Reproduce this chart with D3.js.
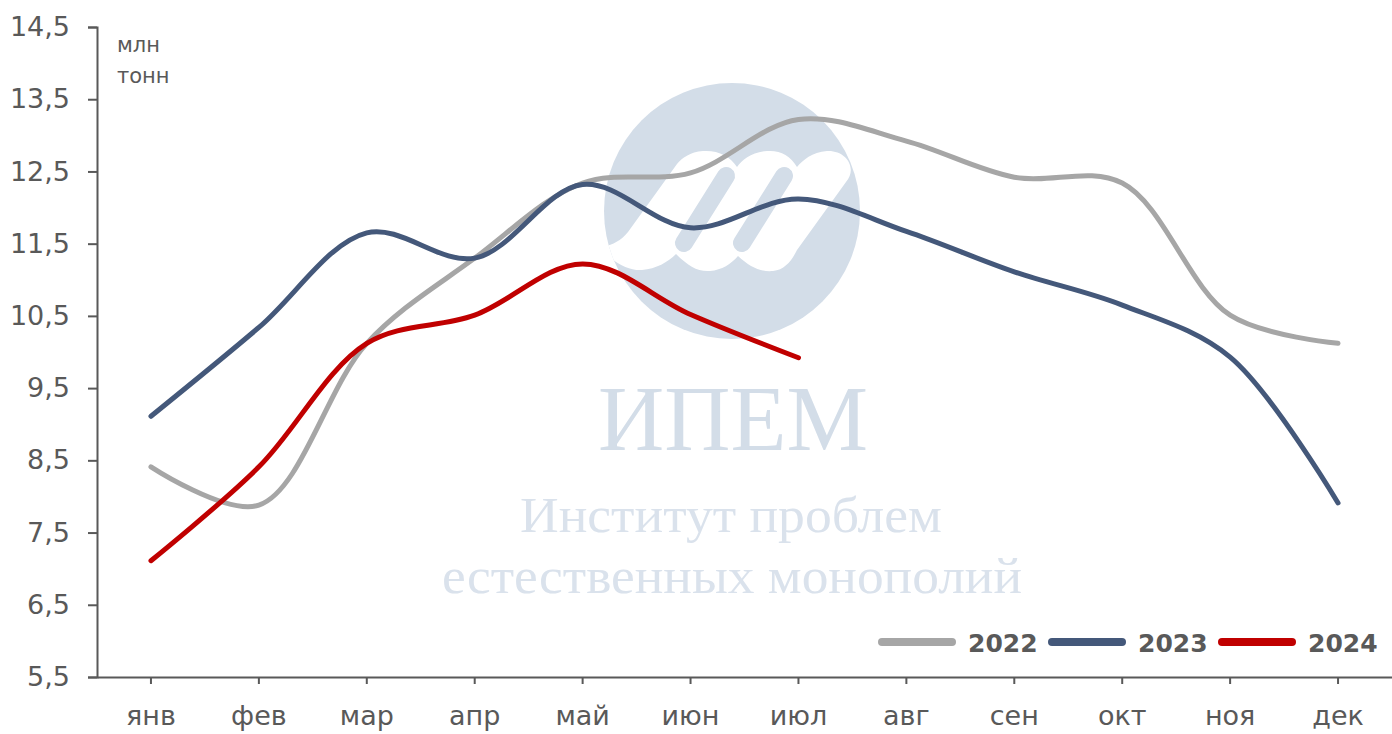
<!DOCTYPE html>
<html>
<head>
<meta charset="utf-8">
<script src="https://cdn.jsdelivr.net/npm/d3@7"></script>
<style>
  body { margin: 0; background: #fff; }
  svg { display: block; }
</style>
</head>
<body>
<script>
const months = ["янв", "фев", "мар", "апр", "май", "июн", "июл", "авг", "сен", "окт", "ноя", "дек"];
const yTicks = [5.5, 6.5, 7.5, 8.5, 9.5, 10.5, 11.5, 12.5, 13.5, 14.5];

const values2022 = [8.41, 7.88, 10.12, 11.3, 12.34, 12.48, 13.22, 12.92, 12.42, 12.34, 10.51, 10.12];
const values2023 = [9.11, 10.34, 11.65, 11.3, 12.32, 11.72, 12.12, 11.67, 11.11, 10.65, 9.93, 7.91];
const values2024 = [7.11, 8.41, 10.12, 10.51, 11.22, 10.52, 9.92];

const seriesNames = ["2022", "2023", "2024"];
const seriesColors = ["#a6a6a6", "#44587a", "#c00000"];
const seriesValues = [values2022, values2023, values2024];

const width = 1392;
const height = 734;
const textColor = "#595959";
const wmColor = "#d3dde8";

const svg = d3.create("svg")
    .attr("width", width)
    .attr("height", height);

// scales
const x = d3.scaleBand()
    .domain(months)
    .range([97, 1392]);
const cx = m => x(m) + x.bandwidth() / 2;

const y = d3.scaleLinear()
    .domain([5.5, 14.5])
    .range([677, 27]);

const fmt = v => d3.format(".1f")(v).replace(".", ",");

// watermark (logo + text)
const wm = svg.append("g").attr("class", "watermark");
const logo = { x: 732, y: 211, r: 128 };

svg.append("defs").append("clipPath")
    .attr("id", "logo-clip")
    .append("circle")
    .attr("cx", logo.x).attr("cy", logo.y).attr("r", logo.r);

wm.append("circle")
    .attr("cx", logo.x).attr("cy", logo.y).attr("r", logo.r)
    .attr("fill", wmColor);

const lg = wm.append("g").attr("clip-path", "url(#logo-clip)");

// white wave shape of the logo
lg.append("path")
    .attr("fill", "#fff")
    .attr("d", "M600,247 C612,262 628,271 642,270 " +
        "C656,269 668,262 676,254 C688,266 698,272 710,271 " +
        "C722,270 731,264 738,256 C750,267 760,272 773,271 " +
        "C785,270 792,260 797,250 L846,182 " +
        "C858,168 846,150 827,151 C812,152 803,160 797,167 " +
        "C790,155 780,150 767,151 C752,152 742,160 737,167 " +
        "C730,156 718,150 703,151 C690,152 682,158 677,164 " +
        "L628,232 C620,242 610,246 600,247 Z");

// slanted counters
lg.selectAll("line.slit")
    .data([[684, 243, 726, 176], [742, 243, 784, 176]])
    .join("line")
    .attr("class", "slit")
    .attr("x1", d => d[0]).attr("y1", d => d[1])
    .attr("x2", d => d[2]).attr("y2", d => d[3])
    .attr("stroke", wmColor)
    .attr("stroke-width", 18)
    .attr("stroke-linecap", "round");

wm.append("text")
    .attr("x", 733).attr("y", 450)
    .attr("text-anchor", "middle")
    .attr("font-family", "'Liberation Serif', 'DejaVu Serif', serif")
    .attr("font-size", 94)
    .attr("textLength", 270)
    .attr("lengthAdjust", "spacingAndGlyphs")
    .attr("fill", wmColor)
    .text("ИПЕМ");

wm.append("text")
    .attr("x", 731).attr("y", 532)
    .attr("text-anchor", "middle")
    .attr("font-family", "'Liberation Serif', 'DejaVu Serif', serif")
    .attr("font-size", 50)
    .attr("textLength", 422)
    .attr("lengthAdjust", "spacingAndGlyphs")
    .attr("fill", "#dae2ec")
    .text("Институт проблем");

wm.append("text")
    .attr("x", 732).attr("y", 593)
    .attr("text-anchor", "middle")
    .attr("font-family", "'Liberation Serif', 'DejaVu Serif', serif")
    .attr("font-size", 50)
    .attr("textLength", 580)
    .attr("lengthAdjust", "spacingAndGlyphs")
    .attr("fill", "#dae2ec")
    .text("естественных монополий");

// y axis
const yAxis = svg.append("g")
    .attr("transform", "translate(97,0)")
    .call(d3.axisLeft(y).tickValues(yTicks).tickFormat(fmt).tickSize(9).tickPadding(18));

yAxis.select(".domain").attr("stroke", textColor).attr("stroke-width", 2);
yAxis.selectAll(".tick line").attr("stroke", textColor).attr("stroke-width", 2);
yAxis.selectAll(".tick text")
    .attr("fill", textColor)
    .attr("font-family", "'DejaVu Sans', sans-serif")
    .attr("font-size", 27);

// x axis
const xAxis = svg.append("g")
    .attr("transform", "translate(0,677)")
    .call(d3.axisBottom(x).tickSize(7).tickPadding(22).tickSizeOuter(0));

xAxis.select(".domain").attr("stroke", textColor).attr("stroke-width", 2);
xAxis.selectAll(".tick line").attr("stroke", textColor).attr("stroke-width", 2);
xAxis.selectAll(".tick text")
    .attr("fill", textColor)
    .attr("font-family", "'DejaVu Sans', sans-serif")
    .attr("font-size", 27);

// unit label
const unit = svg.append("text")
    .attr("fill", textColor)
    .attr("font-family", "'DejaVu Sans', sans-serif")
    .attr("font-size", 21);
unit.append("tspan").attr("x", 117).attr("y", 52).text("млн");
unit.append("tspan").attr("x", 117).attr("y", 83).text("тонн");

// lines
const line = d3.line()
    .x((d, i) => cx(months[i]))
    .y(d => y(d))
    .curve(d3.curveCatmullRom.alpha(0.5));

svg.append("g")
    .attr("class", "lines")
    .selectAll("path")
    .data(seriesValues)
    .join("path")
    .attr("d", d => line(d))
    .attr("fill", "none")
    .attr("stroke", (d, i) => seriesColors[i])
    .attr("stroke-width", 5)
    .attr("stroke-linecap", "round")
    .attr("stroke-linejoin", "round");

// legend
const legend = svg.append("g")
    .attr("class", "legend")
    .selectAll("g")
    .data(seriesNames)
    .join("g")
    .attr("transform", (d, i) => `translate(${882 + i * 170},642)`);

legend.append("line")
    .attr("x1", 0).attr("x2", 70)
    .attr("stroke", (d, i) => seriesColors[i])
    .attr("stroke-width", 8)
    .attr("stroke-linecap", "round");

legend.append("text")
    .attr("x", 86)
    .attr("y", 10)
    .attr("fill", textColor)
    .attr("font-family", "'DejaVu Sans', sans-serif")
    .attr("font-weight", "bold")
    .attr("font-size", 25)
    .text(d => d);

document.body.appendChild(svg.node());
</script>
</body>
</html>
